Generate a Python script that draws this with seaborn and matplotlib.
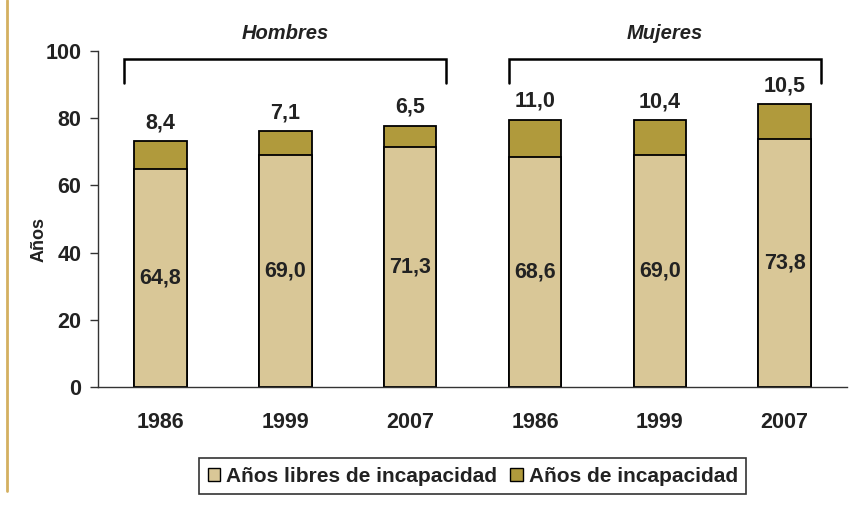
import matplotlib
matplotlib.use("Agg")
import matplotlib.pyplot as plt
import seaborn as sns
import pandas as pd
from matplotlib.patches import Patch

groups = ["Hombres", "Hombres", "Hombres", "Mujeres", "Mujeres", "Mujeres"]
years = ["1986", "1999", "2007", "1986", "1999", "2007"]
libres = [64.8, 69.0, 71.3, 68.6, 69.0, 73.8]
incap = [8.4, 7.1, 6.5, 11.0, 10.4, 10.5]

sns.set_theme(style="white")
plt.rcParams['font.family'] = ['Liberation Sans', 'DejaVu Sans']

keys = [g + y for g, y in zip(groups, years)]
df = pd.DataFrame({"key": keys, "libres": libres, "incap": incap})
df["total"] = df["libres"] + df["incap"]

c_light = "#D9C797"
c_dark = "#B09A3C"
FS = 15.5

fig = plt.figure(figsize=(8.66, 5.09), dpi=100)
ax = fig.add_axes([0.1132, 0.2397, 0.865, 0.6601])

sns.barplot(data=df, x="key", y="total", color=c_dark, saturation=1,
            width=0.42, edgecolor="black", linewidth=1.3, ax=ax)
sns.barplot(data=df, x="key", y="libres", color=c_light, saturation=1,
            width=0.42, edgecolor="black", linewidth=1.3, ax=ax)

ax.set_ylim(0, 100)
ax.set_xlim(-0.5, 5.5)
ax.set_yticks([0, 20, 40, 60, 80, 100])
ax.set_xticks(range(6))
ax.set_xticklabels(years)
ax.tick_params(axis="y", which="both", left=True, length=6, width=1, color="#333333",
               labelsize=FS, pad=6)
ax.tick_params(axis="x", bottom=False, labelsize=FS, pad=12)
for lab in ax.get_xticklabels() + ax.get_yticklabels():
    lab.set_fontweight("bold")
    lab.set_color("#222222")
ax.set_xlabel("")
ax.set_ylabel("Años", fontsize=13, fontweight="bold", color="#222222")
ax.yaxis.set_label_coords(-0.067, 0.44)
for s in ["top", "right"]:
    ax.spines[s].set_visible(False)
for s in ["left", "bottom"]:
    ax.spines[s].set_color("#333333")
    ax.spines[s].set_linewidth(1)

for i in range(6):
    ax.text(i, libres[i] / 2, f"{libres[i]:.1f}".replace(".", ","), ha="center", va="center",
            fontsize=FS, fontweight="bold", color="#222222")
    ax.text(i, libres[i] + incap[i] + 2.3, f"{incap[i]:.1f}".replace(".", ","), ha="center",
            va="bottom", fontsize=FS, fontweight="bold", color="#222222")

# group brackets
for x0, x1, name in [(-0.29, 2.29, "Hombres"), (2.79, 5.29, "Mujeres")]:
    ax.plot([x0, x0, x1, x1], [90.5, 97.5, 97.5, 90.5], color="black", lw=1.8,
            clip_on=False, solid_joinstyle="miter")
    ax.text((x0 + x1) / 2, 102.5, name, ha="center", va="bottom", fontsize=14.5,
            fontweight="bold", fontstyle="italic", color="#222222")

# legend
handles = [Patch(facecolor=c_light, edgecolor="black", label="Años libres de incapacidad"),
           Patch(facecolor=c_dark, edgecolor="black", label="Años de incapacidad")]
leg = fig.legend(handles=handles, loc="center", bbox_to_anchor=(0.546, 0.0648), ncol=2,
                 frameon=True, fancybox=False, prop={"weight": "bold", "size": 15},
                 handlelength=0.6, handleheight=0.6, handletextpad=0.29, columnspacing=0.63,
                 borderpad=0.4)
leg.get_frame().set_edgecolor("black")
leg.get_frame().set_linewidth(1.2)
for t in leg.get_texts():
    t.set_color("#222222")

# left decorative line
fig.add_artist(plt.Line2D([0.0085, 0.0085], [0.035, 1.0], color="#D4B060", lw=2,
                          transform=fig.transFigure))

fig.savefig("out.png", dpi=100)
